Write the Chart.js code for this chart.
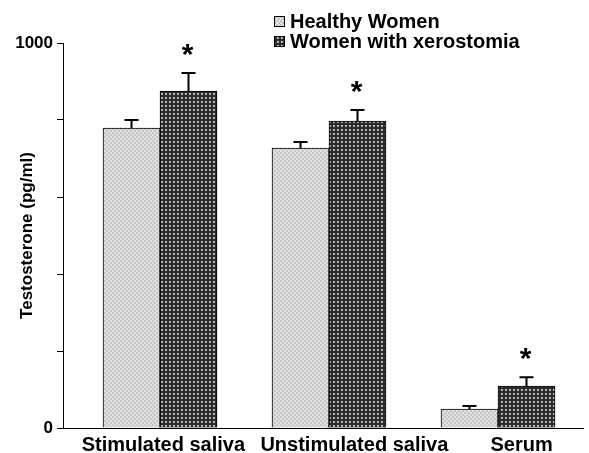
<!DOCTYPE html>
<html>
<head>
<meta charset="utf-8">
<script src="https://cdn.jsdelivr.net/npm/chart.js@4.4.1/dist/chart.umd.min.js"></script>
<style>
  html, body { margin: 0; padding: 0; background: #fff; }
  #wrap { width: 589px; height: 453px; }
</style>
</head>
<body>
<div id="wrap"><canvas id="chart" width="589" height="453"></canvas></div>
<script>
// values (pg/ml)
var categories  = ['Stimulated saliva', 'Unstimulated saliva', 'Serum'];
var healthyMean = [779, 727, 49];
var healthySE   = [21, 16, 8];
var xeroMean    = [875, 797, 109];
var xeroSE      = [47, 29, 23];
var significant = [true, true, true];
var seriesNames = ['Healthy Women', 'Women with xerostomia'];

var FONT = '"Liberation Sans", Arial, sans-serif';

// fill patterns: [x, y, w, h, colour] blocks on a tile
function makePattern(size, bg, blocks) {
    var c = document.createElement('canvas');
    c.width = size; c.height = size;
    var g = c.getContext('2d');
    g.fillStyle = bg;
    g.fillRect(0, 0, size, size);
    blocks.forEach(function(b) {
        g.fillStyle = b[4];
        g.fillRect(b[0], b[1], b[2], b[3]);
    });
    return document.createElement('canvas').getContext('2d').createPattern(c, 'repeat');
}
var lightFill = makePattern(4, '#e2e2e2', [[0, 0, 2, 2, '#c6c6c6'], [2, 2, 2, 2, '#c6c6c6']]);
var darkFill  = makePattern(4, '#2c2c2c', [[1, 1, 2, 2, '#a8a8a8'], [1, 1, 1, 1, '#d8d8d8']]);

function toPoints(arr) {
    return arr.map(function(v, i) { return { x: i, y: v }; });
}

var errorBars = {
    id: 'errorBars',
    afterDatasetsDraw: function(chart) {
        var ctx = chart.ctx;
        var y = chart.scales.y;
        var errs = [healthySE, xeroSE];
        ctx.save();
        ctx.strokeStyle = '#000';
        ctx.lineWidth = 2;
        chart.data.datasets.forEach(function(ds, di) {
            var meta = chart.getDatasetMeta(di);
            meta.data.forEach(function(bar, i) {
                var top = y.getPixelForValue(ds.data[i].y + errs[di][i]);
                ctx.beginPath();
                ctx.moveTo(bar.x, bar.y);
                ctx.lineTo(bar.x, top);
                ctx.moveTo(bar.x - 7, top);
                ctx.lineTo(bar.x + 7, top);
                ctx.stroke();
                if (di === 1 && significant[i]) {
                    ctx.fillStyle = '#000';
                    ctx.font = 'bold 30px ' + FONT;
                    ctx.textAlign = 'center';
                    ctx.textBaseline = 'alphabetic';
                    ctx.fillText('*', bar.x - 1, top - 9);
                }
            });
        });
        ctx.restore();
    }
};

// two-row legend in the upper right
var legendBox = {
    id: 'legendBox',
    afterDraw: function(chart) {
        var ctx = chart.ctx;
        ctx.save();
        chart.data.datasets.forEach(function(ds, i) {
            var cy = 22 + i * 20;
            ctx.fillStyle = ds.backgroundColor;
            ctx.fillRect(274, cy - 6, 11, 11);
            ctx.strokeStyle = '#000';
            ctx.lineWidth = 1;
            ctx.strokeRect(274.5, cy - 5.5, 10, 10);
            ctx.fillStyle = '#000';
            ctx.font = 'bold 20px ' + FONT;
            ctx.textAlign = 'left';
            ctx.textBaseline = 'middle';
            ctx.fillText(ds.label, 290, cy);
        });
        ctx.restore();
    }
};

var chart = new Chart(document.getElementById('chart').getContext('2d'), {
    type: 'bar',
    data: {
        datasets: [{
            label: seriesNames[0],
            data: toPoints(healthyMean),
            backgroundColor: lightFill,
            borderColor: '#000',
            borderWidth: 1
        }, {
            label: seriesNames[1],
            data: toPoints(xeroMean),
            backgroundColor: darkFill,
            borderColor: '#000',
            borderWidth: 1
        }]
    },
    options: {
        responsive: false,
        animation: false,
        devicePixelRatio: 1,
        barThickness: 57,
        layout: { padding: { top: 43, right: 6, left: 0, bottom: 0 } },
        plugins: {
            legend: { display: false },
            tooltip: { enabled: false }
        },
        scales: {
            x: {
                type: 'linear',
                min: -0.574,
                max: 2.503,
                offset: false,
                afterBuildTicks: function(scale) {
                    // the original spreads its labels a little wider than the bars
                    var nudge = [0.02, 0.15, 0.14];
                    scale.ticks = categories.map(function(c, i) { return { value: i + nudge[i] }; });
                },
                afterFit: function(scale) { scale.height = 25; },
                grid: { display: true, drawOnChartArea: false, drawTicks: false, offset: false },
                border: { color: '#000', width: 1 },
                ticks: {
                    autoSkip: false,
                    maxRotation: 0,
                    padding: 5,
                    color: '#000',
                    font: { family: FONT, size: 20, weight: 'bold' },
                    callback: function(v, i) { return categories[i]; }
                }
            },
            y: {
                min: 0,
                max: 1000,
                afterFit: function(scale) { scale.width = 63; },
                grid: { drawOnChartArea: false, drawTicks: true, tickLength: 6, color: '#000' },
                border: { color: '#000', width: 1 },
                ticks: {
                    stepSize: 200,
                    padding: 4,
                    color: '#000',
                    font: { family: FONT, size: 17, weight: 'bold' },
                    callback: function(v) { return (v === 0 || v === 1000) ? v : ''; }
                },
                title: {
                    display: true,
                    text: 'Testosterone (pg/ml)',
                    color: '#000',
                    padding: { top: 17, bottom: 0 },
                    font: { family: FONT, size: 17, weight: 'bold' }
                }
            }
        }
    },
    plugins: [errorBars, legendBox]
});
</script>
</body>
</html>
